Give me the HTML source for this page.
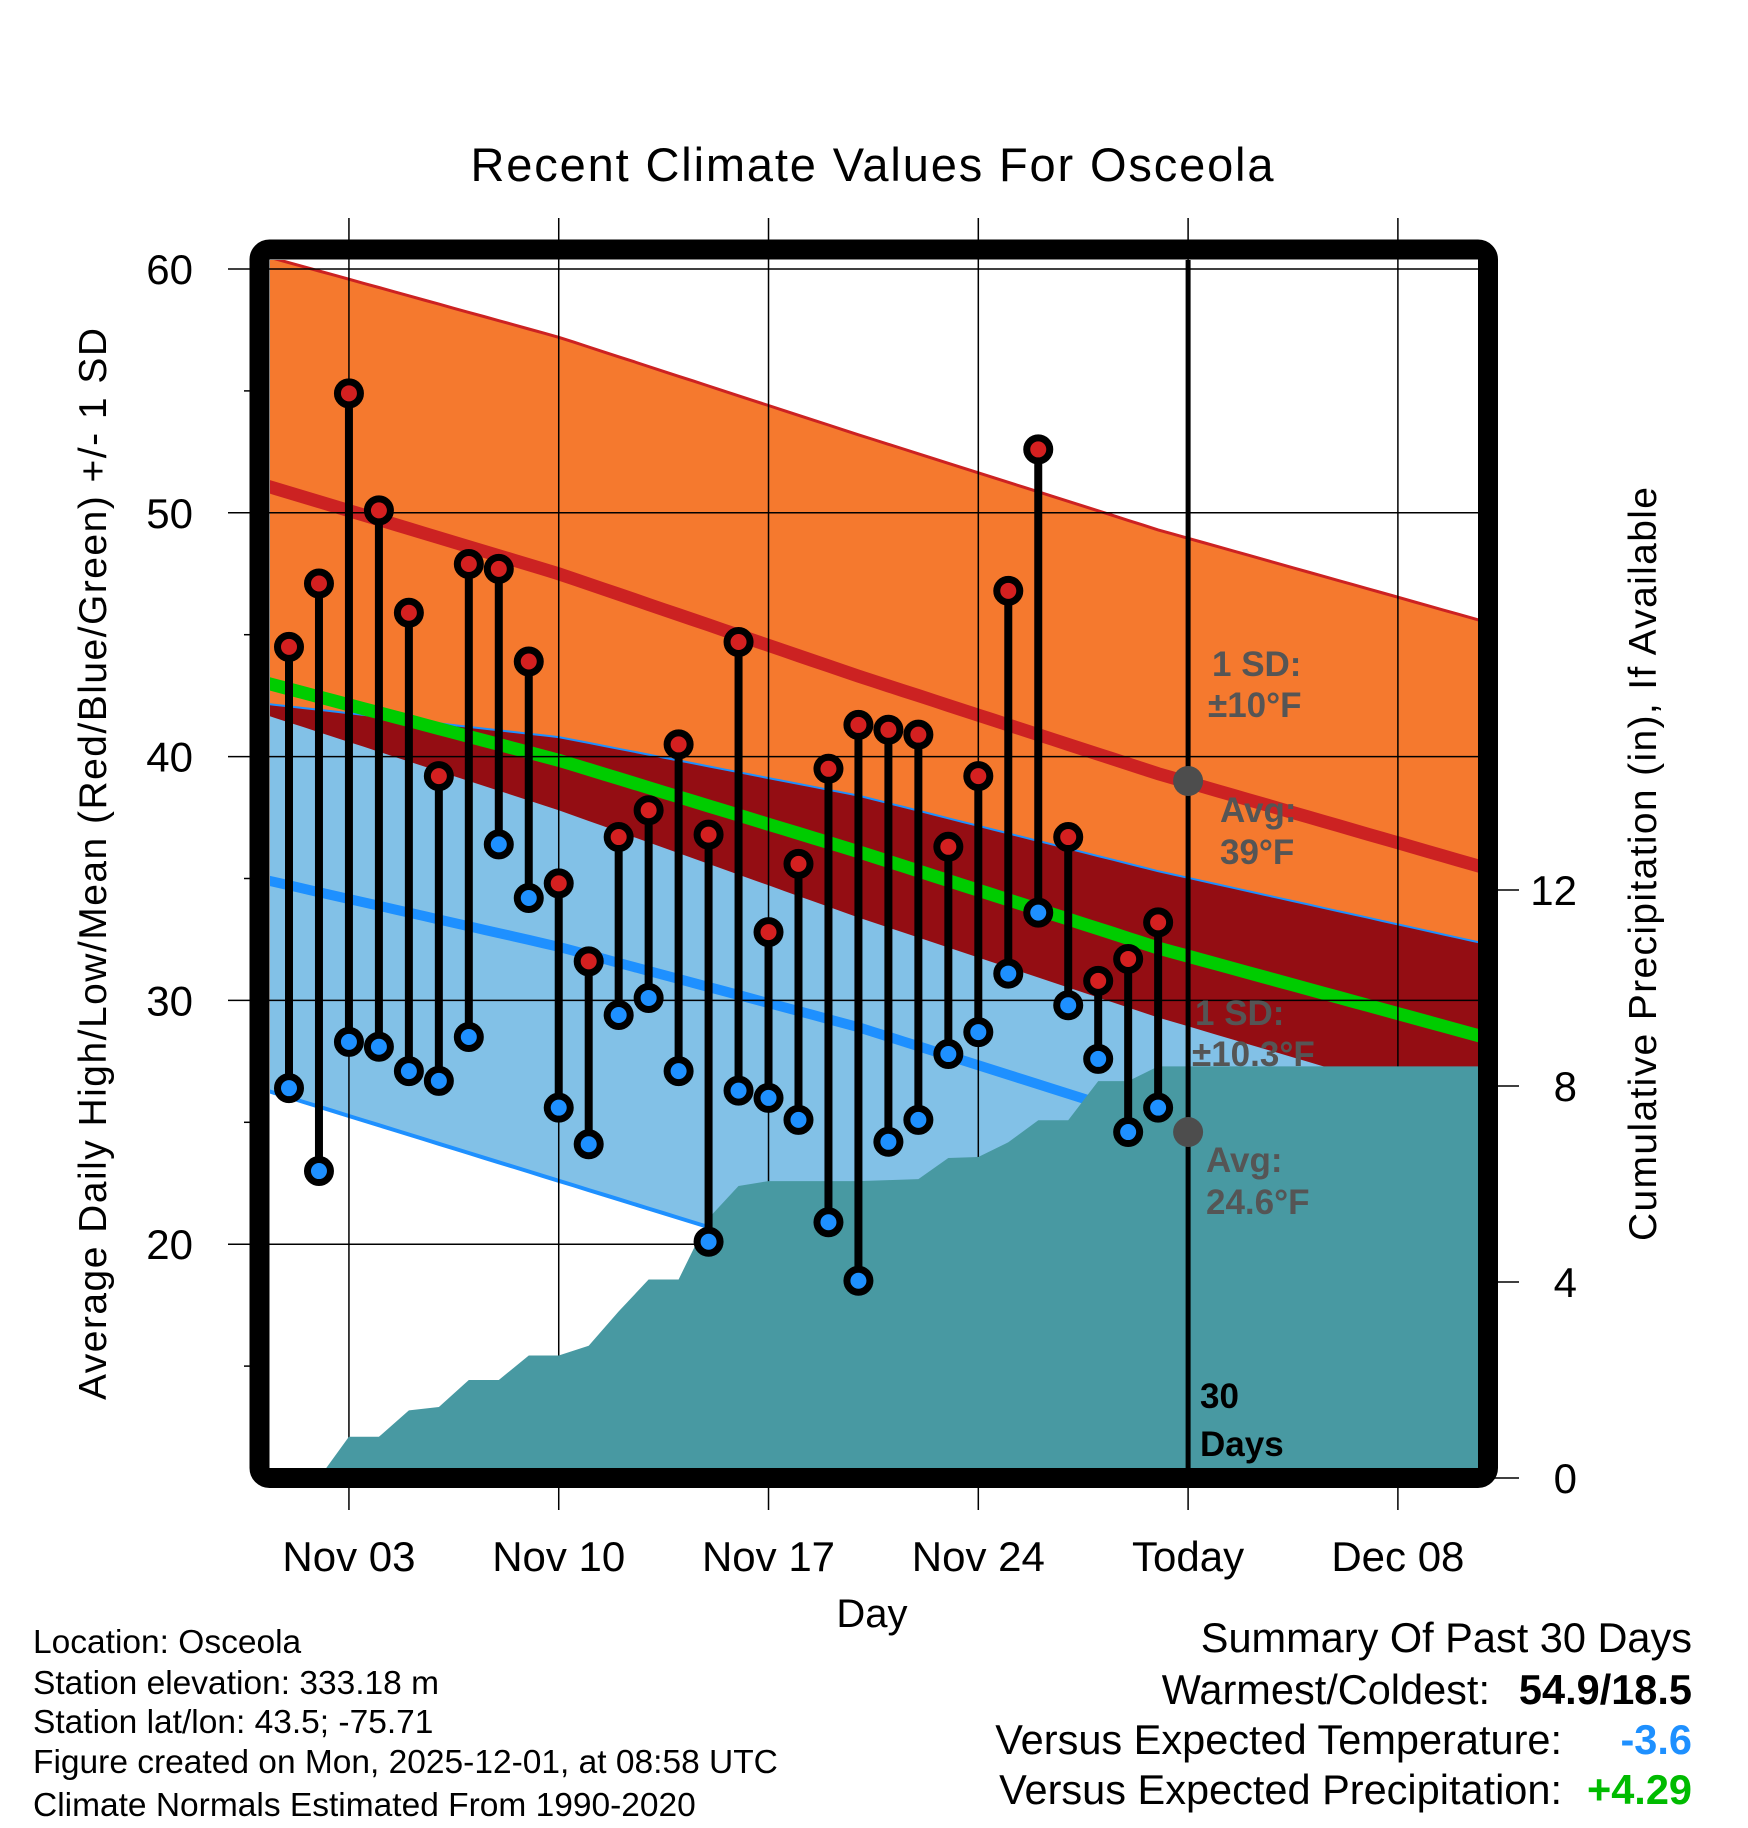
<!DOCTYPE html>
<html><head><meta charset="utf-8"><style>
html,body{margin:0;padding:0;background:#fff;}
svg{display:block;font-family:"Liberation Sans",Arial,sans-serif;}
</style></head><body>
<svg id="chart" width="1748" height="1828" viewBox="0 0 1748 1828" xmlns="http://www.w3.org/2000/svg">
<defs><clipPath id="plotclip"><rect x="270" y="260" width="1208" height="1208"/></clipPath></defs>
<text x="872" y="181" text-anchor="middle" font-size="47" textLength="803">Recent Climate Values For Osceola</text>
<g id="fills" clip-path="url(#plotclip)"></g>
<g id="grid"></g>
<g id="overlay" clip-path="url(#plotclip)"></g>
<g id="marks"></g>
<g id="annot" font-weight="bold" font-size="35" fill="#555">
<text x="1212" y="676">1 SD:</text>
<text x="1208" y="717">±10°F</text>
<text x="1220" y="822">Avg:</text>
<text x="1220" y="864">39°F</text>
<text x="1195" y="1025">1 SD:</text>
<text x="1192" y="1066">±10.3°F</text>
<text x="1206" y="1172">Avg:</text>
<text x="1206" y="1214">24.6°F</text>
<text x="1200" y="1408" fill="#000">30</text>
<text x="1200" y="1456" fill="#000">Days</text>
</g>
<rect x="259.5" y="249.5" width="1228.5" height="1228.5" rx="10" fill="none" stroke="#000" stroke-width="20"/>
<g id="axes" font-size="42"></g>
<text transform="translate(106,864) rotate(-90)" text-anchor="middle" font-size="39" textLength="1072">Average Daily High/Low/Mean (Red/Blue/Green) +/- 1 SD</text>
<text transform="translate(1656,864) rotate(-90)" text-anchor="middle" font-size="39" textLength="754">Cumulative Precipitation (in), If Available</text>
<text x="872" y="1627" text-anchor="middle" font-size="40">Day</text>
<g font-size="33.5">
<text x="33" y="1653">Location: Osceola</text>
<text x="33" y="1694">Station elevation: 333.18 m</text>
<text x="33" y="1733">Station lat/lon: 43.5; -75.71</text>
<text x="33" y="1773">Figure created on Mon, 2025-12-01, at 08:58 UTC</text>
<text x="33" y="1816">Climate Normals Estimated From 1990-2020</text>
</g>
<g font-size="41.5" text-anchor="end">
<text x="1692" y="1652">Summary Of Past 30 Days</text>
<text x="1490" y="1704">Warmest/Coldest:</text>
<text x="1692" y="1704" font-weight="bold">54.9/18.5</text>
<text x="1562" y="1754">Versus Expected Temperature:</text>
<text x="1692" y="1754" font-weight="bold" fill="#1e90ff">-3.6</text>
<text x="1562" y="1804">Versus Expected Precipitation:</text>
<text x="1692" y="1804" font-weight="bold" fill="#00bb00">+4.29</text>
</g>
</svg>
<script>
const highs=[44.5,47.1,54.9,50.1,45.9,39.2,47.9,47.7,43.9,34.8,31.6,36.7,37.8,40.5,36.8,44.7,32.8,35.6,39.5,41.3,41.1,40.9,36.3,39.2,46.8,52.6,36.7,30.8,31.7,33.2];
const lows=[26.4,23.0,28.3,28.1,27.1,26.7,28.5,36.4,34.2,25.6,24.1,29.4,30.1,27.1,20.1,26.3,26.0,25.1,20.9,18.5,24.2,25.1,27.8,28.7,31.1,33.6,29.8,27.6,24.6,25.6];
const precip=[0,0,0.84,0.84,1.38,1.45,2.0,2.0,2.5,2.5,2.7,3.4,4.05,4.05,5.3,5.96,6.06,6.06,6.06,6.06,6.08,6.1,6.53,6.55,6.85,7.3,7.3,8.1,8.1,8.4];
const normDays=[-1,9,19,29,40];
const normHigh=[51.2,47.5,43.3,39.3,35.4];
const normHighSD=[9.4,9.7,9.9,10.0,10.1];
const normLow=[35.0,32.2,28.9,25.0,21.5];
const normLowSD=[7.2,8.6,9.5,10.3,10.8];
const normLowMinusSD=[26.4,22.6,18.8,14.8,10.8];
const xTickLabels=["Nov 03","Nov 10","Nov 17","Nov 24","Today","Dec 08"];
const xTickDays=[2,9,16,23,30,37];
const yTicks=[20,30,40,50,60];
const y2Ticks=[0,4,8,12];
const todayHigh=39.0, todayLow=24.6;

const NS="http://www.w3.org/2000/svg";
function X(d){return 289+d*29.97;}
function Y(v){return 269+(60-v)*24.38;}
function PY(p){return 1478-p*49;}
function interp(arr,d){
  for(let i=0;i<normDays.length-1;i++){
    if(d<=normDays[i+1]||i===normDays.length-2){
      const t=(d-normDays[i])/(normDays[i+1]-normDays[i]);
      return arr[i]+t*(arr[i+1]-arr[i]);
    }
  }
}
function el(tag,attrs,parent){const e=document.createElementNS(NS,tag);for(const k in attrs)e.setAttribute(k,attrs[k]);parent.appendChild(e);return e;}
const samples=[];for(let d=-1;d<=40;d+=0.5)samples.push(d);
function band(fLo,fHi){
  const top=samples.map(d=>X(d).toFixed(1)+","+Y(fHi(d)).toFixed(1));
  const bot=samples.slice().reverse().map(d=>X(d).toFixed(1)+","+Y(fLo(d)).toFixed(1));
  return top.concat(bot).join(" ");
}
function line(f){return samples.map(d=>X(d).toFixed(1)+","+Y(f(d)).toFixed(1)).join(" ");}
const hi=d=>interp(normHigh,d), hs=d=>interp(normHighSD,d), lo=d=>interp(normLow,d), ls=d=>interp(normLowSD,d), lm=d=>interp(normLowMinusSD,d);

const fills=document.getElementById('fills');
let p;
p=el('polygon',{points:band(d=>hi(d)-hs(d),d=>hi(d)+hs(d)),fill:'#f5792e'},fills);


p=el('polygon',{points:band(lm,d=>lo(d)+ls(d)),fill:'#82c1e7'},fills);


p=el('polygon',{points:band(d=>hi(d)-hs(d),d=>Math.max(hi(d)-hs(d),Math.min(lo(d)+ls(d),hi(d)+hs(d)))),fill:'#940d13'},fills);


p=el('polyline',{points:line(d=>hi(d)+hs(d)),fill:'none',stroke:'#cc2222',"stroke-width":3},fills);


p=el('polyline',{points:line(d=>lo(d)+ls(d)),fill:'none',stroke:'#1e90ff',"stroke-width":2},fills);


p=el('polyline',{points:line(lm),fill:'none',stroke:'#1e90ff',"stroke-width":4},fills);


p=el('polyline',{points:line(hi),fill:'none',stroke:'#cc2222',"stroke-width":13},fills);


p=el('polyline',{points:line(lo),fill:'none',stroke:'#1e90ff',"stroke-width":10},fills);


p=el('polyline',{points:line(d=>(hi(d)+lo(d))/2),fill:'none',stroke:'#00cc00',"stroke-width":13},fills);



const grid=document.getElementById('grid');
yTicks.forEach(v=>{const g=el('line',{x1:228,x2:1478,y1:Y(v),y2:Y(v),stroke:'#000',"stroke-width":1.5},grid);

});
[15,25,35,45,55].forEach(v=>{const g=el('line',{x1:244,x2:252,y1:Y(v),y2:Y(v),stroke:'#000',"stroke-width":1.5},grid);

});
xTickDays.forEach(d=>{const g=el('line',{x1:X(d),x2:X(d),y1:218,y2:1510,stroke:'#000',"stroke-width":1.5},grid);

});
y2Ticks.forEach(v=>{const g=el('line',{x1:1488,x2:1519,y1:PY(v),y2:PY(v),stroke:'#000',"stroke-width":1.5},grid);

});

const ov=document.getElementById('overlay');
let pts=[X(0).toFixed(1)+","+PY(0)];
precip.forEach((v,i)=>pts.push(X(i).toFixed(1)+","+PY(v).toFixed(1)));
pts.push("1480,"+PY(precip[precip.length-1]).toFixed(1),"1480,1480",X(0).toFixed(1)+",1480");
p=el('polygon',{points:pts.join(" "),fill:'#4899a2'},ov);


p=el('line',{x1:X(30),x2:X(30),y1:255,y2:1470,stroke:'#000',"stroke-width":5},ov);


p=el('circle',{cx:X(30),cy:Y(todayHigh),r:15,fill:'#4d4d4d'},ov);


p=el('circle',{cx:X(30),cy:Y(todayLow),r:15,fill:'#4d4d4d'},ov);



const marks=document.getElementById('marks');
highs.forEach((h,i)=>{
  const x=X(i);
  const s=el('line',{x1:x,x2:x,y1:Y(h),y2:Y(lows[i]),stroke:'#000',"stroke-width":8},marks);
  
  
  const c1=el('circle',{cx:x,cy:Y(h),r:11.5,fill:'#d42020',stroke:'#000',"stroke-width":7},marks);
  
  
  const c2=el('circle',{cx:x,cy:Y(lows[i]),r:11.5,fill:'#1e90ff',stroke:'#000',"stroke-width":7},marks);
  
  
});

const axes=document.getElementById('axes');
yTicks.forEach(v=>{const t=el('text',{x:193,y:Y(v)+15,"text-anchor":"end"},axes);t.textContent=v;

});
y2Ticks.forEach(v=>{const t=el('text',{x:1577,y:PY(v)+15,"text-anchor":"end"},axes);t.textContent=v;

});
xTickLabels.forEach((l,i)=>{const t=el('text',{x:X(xTickDays[i]),y:1571,"text-anchor":"middle"},axes);t.textContent=l;

});
</script>
</body></html>
